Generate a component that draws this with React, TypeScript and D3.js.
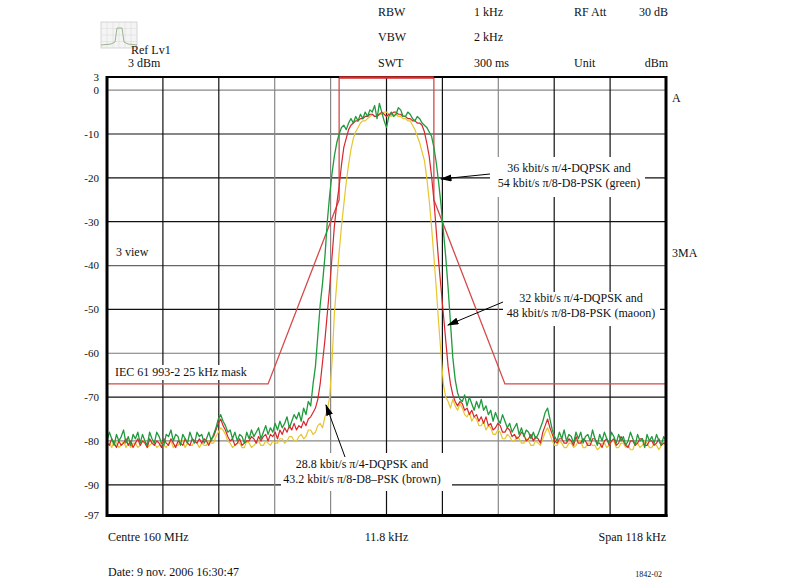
import * as d3 from 'd3';

// frequency offset from centre, kHz (span 118 kHz, 0.5 kHz steps)
const freqs = d3.range(-59, 59.25, 0.5);

// 36 kbit/s pi/4-DQPSK / 54 kbit/s pi/8-D8-PSK (green)
const green = [
  -80, -78, -79.5, -81, -78.5, -80, -79, -77.5, -80.5, -79,
  -81, -78.5, -79.5, -78, -80.5, -78.5, -80, -81, -78, -79.5,
  -80.5, -78, -79, -80.5, -81, -78.5, -79, -77.5, -80, -78.5,
  -79, -81, -78.5, -79.5, -80.5, -78, -79.5, -80.5, -78, -79,
  -78.5, -80.5, -79.5, -78, -80, -78.5, -77, -75, -74, -75.5,
  -76.5, -78, -77.5, -79.5, -78, -80, -78.5, -79, -80.5, -78,
  -79.5, -77.5, -79, -78, -77, -79.5, -78, -76.5, -78.5, -77,
  -78, -76, -77.5, -75.5, -77, -76, -74.5, -77, -75.5, -74,
  -75, -73.5, -75.5, -72.5, -74, -71, -72, -67, -63, -56,
  -49, -44, -38, -30, -24, -19, -15, -12, -10, -8.5,
  -8, -9, -7.5, -6.5, -7.5, -6, -7, -5.5, -6.5, -5,
  -6, -4.5, -5, -3.5, -6.5, -3, -5, -7, -8.5, -6,
  -5, -6, -5.5, -4, -4.5, -6, -6, -5, -5.5, -6.5,
  -7, -6, -6.5, -7.5, -8, -8.5, -9.5, -10.5, -13, -16.5,
  -21, -26, -32, -38, -45, -53, -61, -66, -69, -70.5,
  -71, -69.5, -72, -70, -71.5, -73, -71, -72.5, -70.5, -73,
  -72, -74, -73, -75.5, -73.5, -75, -76, -74, -75.5, -77,
  -76, -78, -77, -76, -78.5, -77, -79, -77.5, -78, -79.5,
  -78, -79.5, -78.5, -77, -75.5, -73.5, -72.5, -75, -77.5, -79,
  -80, -78, -79.5, -77.5, -80, -78.5, -79, -80.5, -78, -79.5,
  -78, -80.5, -79, -78.5, -80, -77.5, -79.5, -81, -78.5, -80,
  -78, -79.5, -80.5, -78, -79, -80.5, -78.5, -80, -79, -81,
  -80, -78, -79.5, -81, -78.5, -80, -79.5, -81.5, -78.5, -80,
  -79, -80.5, -78.5, -80, -81, -79, -80,
];

// 32 kbit/s / 48 kbit/s (maroon)
const red = [
  -80.5, -81, -79.5, -80.5, -81.5, -80, -81, -80.5, -79.5, -81,
  -80, -81.5, -80.5, -79.5, -81, -80, -80.5, -81.5, -79.5, -80.5,
  -81, -80, -80.5, -81.5, -79.5, -80.5, -81, -79.5, -80.5, -81.5,
  -80, -80.5, -81, -79.5, -80.5, -81, -79.5, -80, -80.5, -79.5,
  -80.5, -79.5, -80, -81, -79.5, -79, -77.5, -76, -75, -76.5,
  -77.5, -79, -80, -79.5, -81, -80.5, -79.5, -81, -80.5, -80,
  -80, -79, -79.5, -80.5, -79, -80, -79, -78.5, -80, -78.5,
  -79, -78, -79.5, -77.5, -78.5, -77, -78, -76.5, -77.5, -76,
  -77.5, -76.5, -77, -75.5, -76.5, -75, -74.5, -73.5, -72.5, -70.5,
  -67, -62, -57, -51, -45, -38, -31, -26, -22, -17,
  -13, -11, -9, -8, -7.5, -7, -7, -6.5, -6.5, -6,
  -6, -5.5, -5.5, -6, -6, -5.5, -5, -5.5, -6, -5.5,
  -5.5, -5, -5, -5.5, -5.5, -6, -6, -6.5, -6.5, -7,
  -7, -7.5, -7.5, -8, -9.5, -12, -15, -19.5, -25, -32,
  -39, -45, -51, -57, -63, -67, -69.5, -71, -72, -71,
  -71.5, -73, -72.5, -74, -73, -74.5, -74, -75.5, -74.5, -76,
  -74.5, -76.5, -76, -77.5, -77, -76, -76.5, -78, -78, -77,
  -77.5, -79, -78.5, -79.5, -79, -78, -78.5, -80, -79.5, -78.5,
  -80, -79, -79.5, -80.5, -78, -76.5, -75, -77, -78.5, -80,
  -80.5, -79.5, -79.5, -80.5, -80.5, -79.5, -80, -81, -79, -80.5,
  -80.5, -79.5, -80, -81, -81, -79.5, -79.5, -80.5, -80.5, -81.5,
  -80, -79.5, -81, -80, -79.5, -81, -80.5, -79, -80, -81,
  -81.5, -80, -80, -81, -80.5, -79.5, -79.5, -81, -81, -80,
  -80, -81, -80.5, -79.5, -81, -80.5, -80.5,
];

// 28.8 kbit/s / 43.2 kbit/s (brown, drawn yellow)
const yellow = [
  -81, -80.5, -81.5, -80, -80.5, -81.5, -81, -80, -81.5, -80.5,
  -81.5, -80.5, -80.5, -81.5, -81, -80, -80, -81.5, -81, -80.5,
  -80.5, -81.5, -81, -80, -81, -81.5, -80.5, -80, -81.5, -81,
  -81, -80, -80, -81.5, -80.5, -81, -81, -80, -80.5, -81.5,
  -80.5, -81, -81, -80, -80.5, -80.5, -79, -78, -77, -77.5,
  -78.5, -80, -80.5, -81.5, -81, -80.5, -80.5, -81.5, -81.5, -80,
  -80.5, -81.5, -81, -80.5, -80, -81, -81, -80, -80.5, -81,
  -80, -80.5, -80.5, -79.5, -79.5, -80.5, -80, -79, -79, -80,
  -80, -79, -78.5, -79.5, -79, -77.5, -77.5, -78.5, -78, -76.5,
  -76, -77, -74.5, -73, -70, -62, -51, -44, -37, -31,
  -26, -21, -17, -13.5, -11, -9.5, -8.5, -7.5, -7, -7,
  -6.5, -6, -5.5, -6, -6, -5.5, -5.5, -5, -5, -5.5,
  -6, -5.5, -5.5, -6, -6, -6.5, -6.5, -7, -7, -8,
  -9, -10.5, -12, -14, -16, -20, -25, -31, -38, -45,
  -53, -60, -67, -70, -71, -72.5, -70.5, -72, -73, -71.5,
  -72.5, -74, -74.5, -73.5, -75.5, -74.5, -75, -76.5, -76.5, -75.5,
  -77.5, -76.5, -77, -78.5, -78.5, -77.5, -78, -79.5, -79.5, -78.5,
  -79, -80, -80, -79, -79.5, -80.5, -80.5, -79.5, -80, -81,
  -81, -80, -80.5, -81, -79.5, -78, -77, -78.5, -80, -81,
  -81, -80, -80.5, -81.5, -81.5, -80.5, -80.5, -81.5, -81, -80,
  -80, -81.5, -81.5, -80.5, -80.5, -81, -81, -82, -81.5, -80.5,
  -80.5, -81.5, -81, -80, -80, -81.5, -81.5, -80.5, -80.5, -81.5,
  -81, -82, -82, -80.5, -80.5, -81.5, -81, -80, -80.5, -81.5,
  -81.5, -80.5, -81, -82, -81, -80.5, -81,
];

// IEC 61 993-2 25 kHz mask
const maskFreq = [-59, -25, -10, -10, 10, 10, 25, 59];
const maskLevel = [-67, -67, -25, 3, 3, -25, -67, -67];

const yTicks = [3, 0, -10, -20, -30, -40, -50, -60, -70, -80, -90, -97];
const gridLevels = [0, -10, -20, -30, -40, -50, -60, -70, -80, -90];
const gridDivs = [1, 2, 3, 4, 5, 6, 7, 8, 9];

// scanned grid: some lines came out dark, some grey
const hGridColor = ['#888', '#111', '#111', '#111', '#666', '#111', '#777', '#111', '#888', '#111'];
const vGridColor = ['#111', '#111', '#888', '#888', '#111', '#111', '#888', '#111', '#111'];

const font = '"Liberation Serif", "Times New Roman", serif';

export default function App() {
  const W = 802;
  const H = 584;
  const left = 107, right = 666, top = 77, bottom = 515.5;

  const x = d3.scaleLinear().domain([-59, 59]).range([left, right]);
  const y = d3.scaleLinear().domain([3, -97]).range([top, bottom]);
  const divW = 118 / 10;

  const trace = d3
    .line<number>()
    .x((_, i) => x(freqs[i]))
    .y((d) => y(d));

  const maskLine = d3
    .line<number>()
    .x((_, i) => x(maskFreq[i]))
    .y((d) => y(d));

  const txt = { fontFamily: font, fontSize: 12, fill: '#111' } as const;

  return (
    <div style={{ position: 'absolute', left: 0, top: 0 }}>
      <svg width={W} height={H} style={{ display: 'block', background: '#fff' }}>
        <defs>
          <marker id="ah" viewBox="0 0 10 6" refX="9" refY="3" markerWidth="12" markerHeight="7" orient="auto" markerUnits="userSpaceOnUse">
            <path d="M0,0 L10,3 L0,6 Z" fill="#000" />
          </marker>
        </defs>

        {/* header */}
        <g style={txt}>
          <text x={378} y={16}>RBW</text>
          <text x={474} y={16}>1 kHz</text>
          <text x={574} y={16}>RF Att</text>
          <text x={668} y={16} textAnchor="end">30 dB</text>
          <text x={378} y={41}>VBW</text>
          <text x={474} y={41}>2 kHz</text>
          <text x={378} y={67}>SWT</text>
          <text x={474} y={67}>300 ms</text>
          <text x={574} y={67}>Unit</text>
          <text x={668} y={67} textAnchor="end">dBm</text>
        </g>

        {/* mini trace icon */}
        <g>
          <rect x={101} y={22} width={36} height={26} fill="#f4f4f4" stroke="#ccc" strokeWidth={0.8} />
          {d3.range(1, 6).map((k) => (
            <line key={'iv' + k} x1={101 + k * 6} x2={101 + k * 6} y1={22} y2={48} stroke="#ddd" strokeWidth={0.6} />
          ))}
          {d3.range(1, 4).map((k) => (
            <line key={'ih' + k} x1={101} x2={137} y1={22 + k * 6.5} y2={22 + k * 6.5} stroke="#ddd" strokeWidth={0.6} />
          ))}
          <path d="M101,45 L111,44 L115,42 L117,28 L122,28 L124,42 L128,44 L137,45" fill="none" stroke="#9cb48c" strokeWidth={1} />
        </g>
        <text x={131} y={54} style={txt}>Ref Lv1</text>
        <text x={128} y={67} style={txt}>3 dBm</text>

        {/* grid */}
        {gridLevels.map((v, i) => (
          <line key={'h' + v} x1={left} x2={right} y1={y(v)} y2={y(v)} stroke={hGridColor[i]} strokeWidth={1.2} />
        ))}
        {gridDivs.map((k, i) => (
          <line key={'v' + k} x1={x(-59 + k * divW)} x2={x(-59 + k * divW)} y1={top} y2={bottom} stroke={vGridColor[i]} strokeWidth={1.2} />
        ))}

        {/* y tick labels */}
        {yTicks.map((v) => (
          <text key={'t' + v} x={99} y={y(v)} dy="0.35em" textAnchor="end" style={{ ...txt, fontSize: 11 }}>
            {v}
          </text>
        ))}

        {/* limit mask */}
        <path d={maskLine(maskLevel) ?? ''} fill="none" stroke="#d44a4a" strokeWidth={1.3} />

        {/* traces */}
        <path d={trace(yellow) ?? ''} fill="none" stroke="#e6c62e" strokeWidth={1.2} strokeLinejoin="round" />
        <path d={trace(red) ?? ''} fill="none" stroke="#d8262c" strokeWidth={1.2} strokeLinejoin="round" />
        <path d={trace(green) ?? ''} fill="none" stroke="#1f9a3c" strokeWidth={1.3} strokeLinejoin="round" />

        {/* frame */}
        <line x1={left} x2={right} y1={top} y2={top} stroke="#000" strokeWidth={2} />
        <line x1={left} x2={right + 1.5} y1={bottom} y2={bottom} stroke="#000" strokeWidth={3} />
        <line x1={left} x2={left} y1={top - 1} y2={bottom + 1.5} stroke="#000" strokeWidth={3} />
        <line x1={right} x2={right} y1={top - 1} y2={bottom + 1.5} stroke="#000" strokeWidth={3} />
        <line x1={x(-10)} x2={x(10)} y1={top + 0.5} y2={top + 0.5} stroke="#d42a2a" strokeWidth={2.5} />

        {/* in-plot labels */}
        <text x={116} y={256} style={txt}>3 view</text>
        <rect x={112} y={365} width={150} height={15} fill="#fff" />
        <text x={115} y={376} style={txt}>IEC 61 993-2 25 kHz mask</text>
        <text x={672} y={102} style={txt}>A</text>
        <text x={672} y={257} style={txt}>3MA</text>

        {/* annotations */}
        <rect x={490} y={157} width={155} height={40} fill="#fff" />
        <text x={569} y={172} textAnchor="middle" style={txt}>36 kbit/s π/4-DQPSK and</text>
        <text x={569} y={187} textAnchor="middle" style={txt}>54 kbit/s π/8-D8-PSK (green)</text>
        <line x1={490} y1={174} x2={441} y2={179} stroke="#000" strokeWidth={1} markerEnd="url(#ah)" />

        <rect x={503} y={292} width={157} height={34} fill="#fff" />
        <text x={581} y={302} textAnchor="middle" style={txt}>32 kbit/s π/4-DQPSK and</text>
        <text x={581} y={317} textAnchor="middle" style={txt}>48 kbit/s π/8-D8-PSK (maoon)</text>
        <line x1={503} y1={302} x2={448} y2={325} stroke="#000" strokeWidth={1} markerEnd="url(#ah)" />

        <rect x={281} y={453} width={171} height={38} fill="#fff" />
        <text x={362} y={468} textAnchor="middle" style={txt}>28.8 kbit/s π/4-DQPSK and</text>
        <text x={362} y={483} textAnchor="middle" style={txt}>43.2 kbit/s π/8-D8–PSK (brown)</text>
        <line x1={345} y1={457} x2={326} y2={405} stroke="#000" strokeWidth={1} markerEnd="url(#ah)" />

        {/* footer */}
        <text x={108} y={541} style={txt}>Centre 160 MHz</text>
        <text x={x(0)} y={541} textAnchor="middle" style={txt}>11.8 kHz</text>
        <text x={666} y={541} textAnchor="end" style={txt}>Span 118 kHz</text>
        <text x={108} y={576} style={txt}>Date: 9 nov. 2006 16:30:47</text>
        <text x={662} y={577} textAnchor="end" style={{ ...txt, fontSize: 8 }}>1842-02</text>
      </svg>
    </div>
  );
}
